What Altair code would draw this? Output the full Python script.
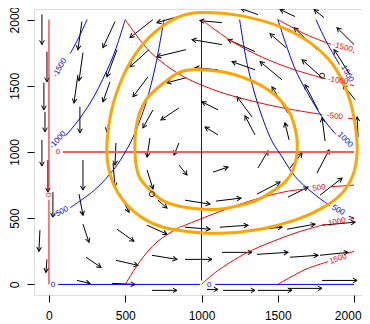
import math
import altair as alt
import pandas as pd

X_DOMAIN = [-98, 2052]
Y_DOMAIN = [-80, 2080]
W, H = 328, 286
TICKS = [0, 500, 1000, 1500, 2000]

# flow-field arrows: (tail x, tail y, head x, head y)
arrows = [
    (-46, 2038, -46, 1811), (-13, 1758, -13, 1530), (-33, 1523, -33, 1318),
    (-26, 1303, -26, 1152), (-46, 1091, -46, 894), (-7, 939, -7, 697),
    (26, 697, 26, 508), (-59, 409, -66, 250), (-13, 189, -20, 91),
    (184, 30, 269, 8), (216, 1985, 190, 1773), (223, 1750, 197, 1538),
    (190, 1583, 164, 1371), (203, 1341, 203, 1144), (223, 939, 223, 712),
    (197, 682, 223, 523), (223, 455, 262, 318), (243, 205, 341, 129),
    (413, 8, 564, 0), (433, 1985, 354, 1788), (446, 1773, 380, 1568),
    (400, 1530, 354, 1379), (413, 1341, 380, 1152), (439, 1068, 433, 902),
    (420, 917, 433, 735), (466, 682, 525, 545), (446, 417, 557, 326),
    (439, 182, 584, 144), (675, -45, 839, -45), (682, 2000, 531, 1864),
    (656, 1773, 531, 1644), (649, 1568, 551, 1417), (682, 1318, 616, 1182),
    (662, 1106, 643, 962), (643, 864, 682, 720), (715, 636, 774, 576),
    (643, 447, 774, 379), (675, 220, 839, 189), (898, 1773, 708, 1720),
    (898, 1561, 774, 1523), (852, 1333, 734, 1242), (852, 1068, 820, 977),
    (852, 902, 905, 826), (892, 2038, 708, 1977), (1134, 1977, 990, 1992),
    (1134, 1811, 938, 1849), (1108, 1621, 957, 1636), (1108, 1318, 1003, 1379),
    (1108, 1129, 1023, 1189), (1075, 848, 1174, 886), (1095, 629, 1259, 652),
    (892, 636, 1056, 606), (892, 432, 1056, 417), (1121, 432, 1305, 447),
    (892, 189, 1069, 189), (1134, 242, 1331, 242), (1036, -38, 1108, -38),
    (1141, -45, 1351, -45), (1370, -45, 1593, -45), (1567, -30, 1790, -30),
    (1790, 30, 2020, 30), (1364, 227, 1567, 242), (1580, 205, 1764, 220),
    (1777, 220, 1961, 242), (1318, 409, 1528, 432), (1561, 417, 1744, 455),
    (1790, 447, 2007, 470), (1364, 682, 1515, 773), (1567, 659, 1698, 735),
    (1777, 674, 1921, 803), (1370, 879, 1436, 1008), (1580, 879, 1659, 992),
    (1757, 841, 1836, 1015), (1574, 1091, 1547, 1220), (1810, 1083, 1790, 1258),
    (2026, 1114, 2020, 1265), (1351, 1129, 1285, 1273), (1331, 1265, 1233, 1417),
    (1567, 1295, 1462, 1492), (1764, 1318, 1679, 1508), (2007, 1394, 1928, 1508),
    (1790, 1561, 1659, 1697), (1351, 1621, 1200, 1682), (1528, 1545, 1384, 1682),
    (1351, 1758, 1174, 1849), (1554, 1788, 1449, 1894), (1757, 1773, 1607, 1939),
    (2000, 1811, 1888, 1939), (1974, 1583, 1869, 1773), (1370, 2038, 1259, 2083),
    (1613, 2023, 1515, 2076), (1803, 2015, 1738, 2076),
]

outer_orbit = [
    (990, 2053), (1252, 2030), (1515, 1947), (1711, 1826), (1862, 1659),
    (1961, 1432), (2007, 1205), (2020, 1000), (1993, 826), (1921, 689),
    (1790, 576), (1613, 485), (1384, 417), (1121, 386), (892, 402),
    (728, 439), (597, 515), (485, 636), (413, 788), (380, 977),
    (393, 1205), (439, 1432), (531, 1674), (662, 1871), (826, 2008),
]
inner_orbit = [
    (1003, 1621), (1220, 1583), (1436, 1470), (1567, 1318), (1620, 1144),
    (1626, 992), (1600, 864), (1547, 773), (1436, 682), (1331, 621),
    (1108, 568), (892, 583), (754, 629), (669, 705), (590, 818),
    (564, 992), (577, 1220), (636, 1394), (754, 1523), (866, 1606),
]
start_points = [(1790, 1576), (675, 682)]

RED, BLUE = "#ff0000", "#0000ff"
# contour curves, split where their labels sit
red_curves = {
    "r0h": [[(92, 1000), (2000, 1000)]],
    "r0v": [[(0, 0), (0, 640)], [(0, 712), (0, 2000)]],
    "r500": [[(500, 0), (597, 175), (708, 320), (839, 420), (892, 447), (1108, 545),
              (1331, 635), (1547, 700), (1690, 720)], [(1850, 738), (2000, 750)]],
    "r1000": [[(1000, 0), (1108, 105), (1285, 232), (1462, 322), (1633, 395), (1815, 455)],
              [(1965, 490), (2000, 500)]],
    "r1500": [[(1500, 0), (1600, 65), (1700, 122), (1830, 172)], [(1960, 235), (2000, 250)]],
    "rm500": [[(500, 2000), (616, 1818), (728, 1690), (892, 1563), (1108, 1458),
               (1331, 1385), (1547, 1330), (1790, 1283)], [(1960, 1256), (2000, 1250)]],
    "rm1000": [[(1000, 2000), (1200, 1835), (1400, 1715), (1600, 1625), (1815, 1552)],
               [(1975, 1508), (2000, 1500)]],
    "rm1500": [[(1500, 2000), (1600, 1938), (1700, 1880), (1850, 1812)],
               [(1990, 1755), (2000, 1750)]],
}
blue_curves = {
    "b0h": [[(60, 0), (990, 0)], [(1090, 0), (2000, 0)]],
    "b0v": [[(1000, 30), (1000, 2000)]],
    "b500": [[(1250, 2000), (1300, 1660), (1370, 1360), (1450, 1110), (1521, 975),
              (1613, 816), (1725, 695), (1840, 595)], [(1965, 515), (2000, 500)]],
    "b1000": [[(1500, 2000), (1590, 1695), (1659, 1520), (1790, 1265), (1880, 1135)]],
    "b1500": [[(1750, 2000), (1820, 1830), (1905, 1660)]],
    "bm500": [[(140, 580), (300, 714), (426, 870), (500, 1000), (560, 1135),
               (636, 1370), (700, 1660), (754, 2000)]],
    "bm1000": [[(110, 1124), (200, 1250), (300, 1429), (400, 1667), (450, 1818), (500, 2000)]],
    "bm1500": [[(140, 1744), (200, 1875), (250, 2000)]],
}
labels = [
    ("-1500", 72, 1636, 300, BLUE), ("-1000", 59, 1090, 313, BLUE),
    ("-500", 79, 545, 333, BLUE), ("0", 26, -5, 0, BLUE), ("0", 1050, -5, 0, BLUE),
    ("500", 1895, 560, 30, BLUE), ("1000", 1941, 1091, 45, BLUE),
    ("1500", 1954, 1591, 62, BLUE),
    ("0", 59, 1000, 0, RED), ("0", 0, 676, 270, RED),
    ("500", 1770, 727, 352, RED), ("1000", 1888, 470, 348, RED),
    ("1500", 1895, 192, 340, RED), ("-500", 1875, 1268, 5, RED),
    ("-1000", 1895, 1538, 8, RED), ("-1500", 1925, 1790, 15, RED),
]

# ---- tables ----
sx = W / (X_DOMAIN[1] - X_DOMAIN[0])
sy = H / (Y_DOMAIN[1] - Y_DOMAIN[0])
arr_rows = []
for tx, ty, hx, hy in arrows:
    ang = math.degrees(math.atan2((hx - tx) * sx, (hy - ty) * sy)) % 360
    arr_rows.append({"x": tx, "y": ty, "x2": hx, "y2": hy, "ang": ang})
arr_df = pd.DataFrame(arr_rows)

cont_rows = []
for curves, col in ((red_curves, RED), (blue_curves, BLUE)):
    for name, segs in curves.items():
        for si, seg in enumerate(segs):
            for i, (x, y) in enumerate(seg):
                c = "#ff5a5a" if name == "r0h" else col
                sw = 2 if name == "r0h" else 1
                cont_rows.append({"seg": f"{name}_{si}", "i": i, "x": x, "y": y,
                                  "col": c, "sw": sw})
cont_df = pd.DataFrame(cont_rows)

orb_rows = []
for oi, orb in enumerate((outer_orbit, inner_orbit)):
    for i, (x, y) in enumerate(orb):
        orb_rows.append({"orb": oi, "i": i, "x": x, "y": y})
orb_df = pd.DataFrame(orb_rows)

start_df = pd.DataFrame(start_points, columns=["x", "y"])
lab_df = pd.DataFrame(labels, columns=["t", "x", "y", "ang", "col"])

xs = alt.Scale(domain=X_DOMAIN, nice=False, zero=False)
ys = alt.Scale(domain=Y_DOMAIN, nice=False, zero=False)
font = "Liberation Sans"
xax = alt.Axis(values=TICKS, format="d", title=None, grid=False, domain=False,
               tickSize=7, tickColor="black", labelColor="black", labelFont=font,
               labelFontSize=12, labelPadding=8, labelFlush=10, labelFlushOffset=7)
yax = alt.Axis(values=TICKS, format="d", title=None, grid=False, domain=False,
               tickSize=7, tickColor="black", labelColor="black", labelFont=font,
               labelFontSize=12, labelPadding=6, labelAngle=270)
X = alt.X("x:Q", scale=xs, axis=xax)
Y = alt.Y("y:Q", scale=ys, axis=yax)

shafts = alt.Chart(arr_df).mark_rule(color="black", strokeWidth=1, clip=True).encode(
    x=X, y=Y, x2="x2:Q", y2="y2:Q")
heads = alt.Chart(arr_df).mark_point(
    shape="M-0.55,1L0,0L0.55,1", size=72, filled=False, stroke="black",
    strokeWidth=1, opacity=1, clip=True).encode(
    x=alt.X("x2:Q", scale=xs, axis=xax), y=alt.Y("y2:Q", scale=ys, axis=yax),
    angle=alt.Angle("ang:Q", scale=None))
conts = alt.Chart(cont_df).mark_line(interpolate="cardinal", clip=True).encode(
    x=X, y=Y, detail="seg:N", order="i:Q",
    color=alt.Color("col:N", scale=None),
    strokeWidth=alt.StrokeWidth("sw:Q", scale=None))
orbs = alt.Chart(orb_df).mark_line(interpolate="cardinal-closed", color="#ffa500",
                                   strokeWidth=3, clip=True).encode(
    x=X, y=Y, detail="orb:N", order="i:Q")
starts = alt.Chart(start_df).mark_point(shape="circle", size=26, filled=False,
                                        stroke="#222", strokeWidth=1, opacity=1).encode(x=X, y=Y)
labs = alt.Chart(lab_df).mark_text(font=font, fontSize=8).encode(
    x=X, y=Y, text="t:N", color=alt.Color("col:N", scale=None),
    angle=alt.Angle("ang:Q", scale=None))

chart = alt.layer(shafts, heads, conts, orbs, starts, labs).properties(
    width=W, height=H,
    padding={"left": 26, "top": 1, "right": 0, "bottom": 29},
    autosize=alt.AutoSizeParams(type="none"),
).configure_view(stroke="black", strokeWidth=1).configure(background="white")

chart.save("out.html", embed_options={"renderer": "svg", "actions": False})
